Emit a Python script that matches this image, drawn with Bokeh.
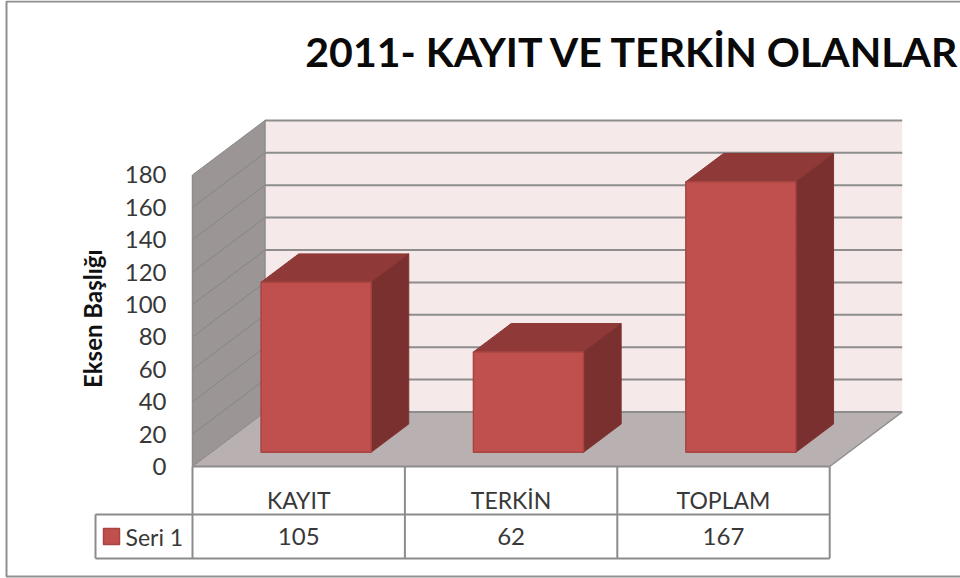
from bokeh.plotting import figure
from bokeh.models import LinearAxis, FixedTicker, Range1d
from bokeh.core.properties import value
from bokeh.embed import file_html
from bokeh.resources import INLINE

TITLE = "2011- KAYIT VE TERKİN OLANLAR"
Y_TITLE = "Eksen Başlığı"
SERIES = "Seri 1"
categories = ["KAYIT", "TERKİN", "TOPLAM"]
values = [105, 62, 167]
y_ticks = [0, 20, 40, 60, 80, 100, 120, 140, 160, 180]

W, H = 960, 578
X0_PX, Y0_PX = 192.0, 466.0
CAT_PX = 212.4
UNIT_PX = 1.62
FONT = "Lato"

DX = 72.5 / CAT_PX      # full depth of the 3D box in category units
DY = 54.5 / UNIT_PX     # full depth in value units
px = lambda n: n / CAT_PX
py = lambda n: n / UNIT_PX

p = figure(width=W, height=H, output_backend="svg", toolbar_location=None,
           x_range=Range1d(-X0_PX / CAT_PX, (W - X0_PX) / CAT_PX),
           y_range=Range1d(-(H - Y0_PX) / UNIT_PX, Y0_PX / UNIT_PX),
           min_border=0, outline_line_color=None,
           x_axis_type=None, y_axis_type=None)
p.grid.visible = False
p.background_fill_color = "white"

ymax = y_ticks[-1]
ncat = len(categories)

# chart border
left, right = px(6) - X0_PX / CAT_PX, px(W + 20) - X0_PX / CAT_PX
top, bottom = Y0_PX / UNIT_PX - py(1), Y0_PX / UNIT_PX - py(576)
p.patch([left, right, right, left], [bottom, bottom, top, top],
        fill_color="white", line_color="#8f8f8f", line_width=2)

# walls and floor
p.patch([DX, ncat + DX, ncat + DX, DX], [DY, DY, ymax + DY, ymax + DY],
        fill_color="#f5e9e9", line_color=None)
p.patch([0, DX, DX, 0], [0, DY, ymax + DY, ymax],
        fill_color="#9b9695", line_color=None)
p.patch([0, ncat, ncat + DX, DX], [0, 0, DY, DY],
        fill_color="#b9b1b1", line_color=None)

# gridlines on the back and side walls
p.multi_line([[DX, ncat + DX] for _ in y_ticks], [[t + DY, t + DY] for t in y_ticks],
             line_color="#8d8d8d", line_width=2)
p.multi_line([[0, DX] for _ in y_ticks], [[t, t + DY] for t in y_ticks],
             line_color="#858585", line_width=1)
p.line([DX, DX], [DY, ymax + DY], line_color="#8d8d8d", line_width=1.5)
p.line([0, 0], [0, ymax], line_color="#8d8d8d", line_width=1.5)
p.line([ncat, ncat + DX], [0, DY], line_color="#8d8d8d", line_width=1.5)

# 3D bars
BAR_W = 0.518
D0, D1 = 0.26, 0.78
cx = [i + 0.5 for i in range(ncat)]
xl = [c - BAR_W / 2 + D0 * DX - px(1.5) for c in cx]
xr = [c + BAR_W / 2 + D0 * DX - px(1.5) for c in cx]
base = D0 * DY
dd = (D1 - D0)
top_xs = [[a, b, b + dd * DX, a + dd * DX] for a, b in zip(xl, xr)]
top_ys = [[v + base, v + base, v + base + dd * DY, v + base + dd * DY] for v in values]
side_xs = [[b, b + dd * DX, b + dd * DX, b] for b in xr]
side_ys = [[base, base + dd * DY, v + base + dd * DY, v + base] for v in values]
p.patches(top_xs, top_ys, fill_color="#8f3a38", line_color="#8b3836", line_width=1)
p.patches(side_xs, side_ys, fill_color="#7a302e", line_color="#81332f", line_width=1)
p.quad(left=xl, right=xr, bottom=[base] * ncat, top=[v + base for v in values],
       fill_color="#c0504d", line_color="#a74542", line_width=1.5)

# data table
row1, row2 = -py(514 - Y0_PX), -py(558 - Y0_PX)
leg_x = -px(X0_PX - 95)
GRID = "#8c8c8c"
p.multi_line([[i, i] for i in range(ncat + 1)], [[0, row2] for _ in range(ncat + 1)],
             line_color=GRID, line_width=2)
p.multi_line([[0, ncat], [leg_x, ncat], [leg_x, ncat], [leg_x, leg_x]],
             [[0, 0], [row1, row1], [row2, row2], [row1, row2]],
             line_color=GRID, line_width=2)
row_mid = (row1 + row2) / 2
p.text(cx, [row_mid] * ncat, text=[str(v) for v in values], text_font=value(FONT),
       text_font_size="24px", text_color="#383838", text_align="center", text_baseline="middle")
p.scatter([leg_x + px(16)], [row_mid], marker="square", size=16,
          fill_color="#c0504d", line_color="#a74542", line_width=1.5)
p.text([leg_x + px(30)], [row_mid], text=[SERIES], text_font=value(FONT),
       text_font_size="23px", text_color="#383838", text_align="left", text_baseline="middle")

# axes fixed inside the frame
yaxis = LinearAxis(fixed_location=0, ticker=FixedTicker(ticks=y_ticks),
                   axis_line_color=None, major_tick_line_color=None, minor_tick_line_color=None,
                   major_label_text_font=FONT, major_label_text_font_size="24px",
                   major_label_text_color="#383838", major_label_standoff=20)
p.add_layout(yaxis, "left")
xaxis = LinearAxis(fixed_location=0, ticker=FixedTicker(ticks=cx),
                   major_label_overrides={c: n for c, n in zip(cx, categories)},
                   axis_line_color=None, major_tick_line_color=None, minor_tick_line_color=None,
                   major_label_text_font=FONT, major_label_text_font_size="23px",
                   major_label_text_color="#383838", major_label_standoff=13)
p.add_layout(xaxis, "below")

# titles
p.text([-px(X0_PX - 92)], [ymax / 2 + py(2)], text=[Y_TITLE], angle=90, angle_units="deg",
       text_font=value(FONT), text_font_size="24px", text_font_style="bold", text_color="#111111",
       text_align="center", text_baseline="middle")
p.text([px(961 - X0_PX)], [py(Y0_PX - 51)], text=[TITLE], text_font=value(FONT),
       text_font_size="41px", text_font_style="bold", text_color="#0a0a0a",
       text_align="right", text_baseline="middle")

open("out.html", "w").write(file_html(p, INLINE))
